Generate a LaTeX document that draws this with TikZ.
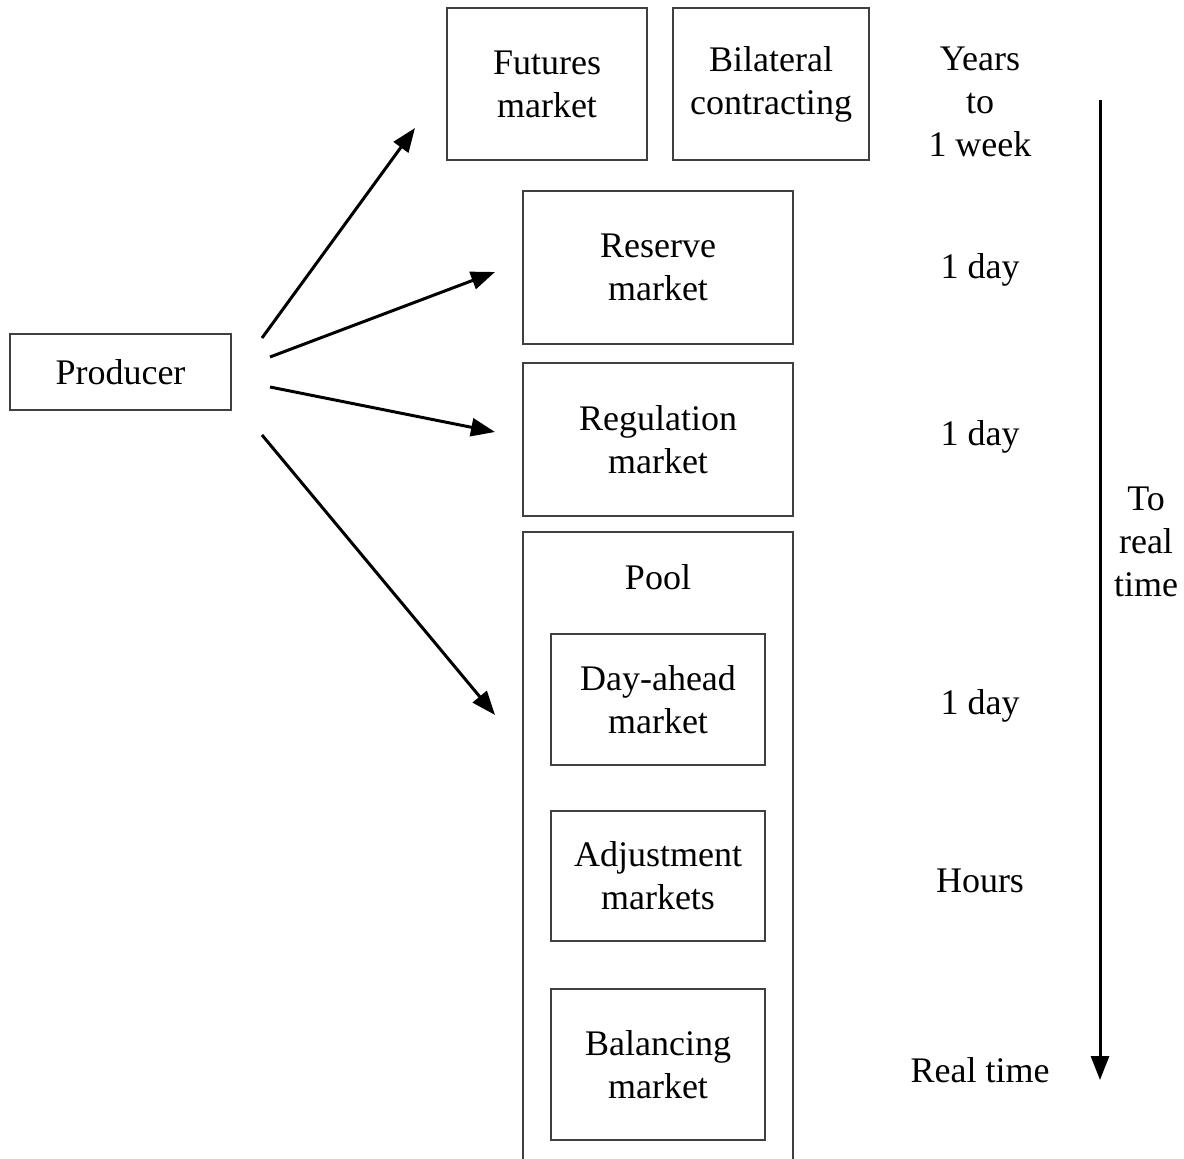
\documentclass[tikz,border=0pt]{standalone}
\usepackage{fontspec}
\setmainfont{Liberation Serif}
\usetikzlibrary{arrows.meta}
\begin{document}
\begin{tikzpicture}
           [x=0.5pt,y=-0.5pt,
            font=\fontsize{18}{21.5}\selectfont,
            mkt/.style={draw=black!75,line width=1pt,align=center,inner sep=0pt},
            lbl/.style={align=center,inner sep=0pt},
            arr/.style={line width=1.5pt,-{Triangle[length=12pt,width=9pt]}}]
           \useasboundingbox (0,0) rectangle (1184,1159);

           % producer
           \node[mkt,minimum width=110.5pt,minimum height=38pt] (prod) at (120.5,372) {Producer};

           % markets
           \node[mkt,minimum width=100pt,minimum height=76pt] (fut) at (547,84) {Futures\\market};
           \node[mkt,minimum width=98pt,minimum height=76pt] (bil) at (771,84) {Bilateral\\contracting};
           \node[mkt,minimum width=135pt,minimum height=76.5pt] (res) at (658,267.5) {Reserve\\market};
           \node[mkt,minimum width=135pt,minimum height=76.5pt] (reg) at (658,439.5) {Regulation\\market};

           % pool, open at the bottom
           \draw[draw=black!75,line width=1pt] (523,1165) -- (523,532) -- (793,532) -- (793,1165);
           \node[lbl] (pool) at (658,577) {Pool};
           \node[mkt,minimum width=107pt,minimum height=65.5pt] (dam) at (658,699.5) {Day-ahead\\market};
           \node[mkt,minimum width=107pt,minimum height=65pt] (adj) at (658,876) {Adjustment\\markets};
           \node[mkt,minimum width=107pt,minimum height=75.5pt] (bal) at (658,1064.5) {Balancing\\market};

           % times
           \node[lbl] (t0) at (980,102) {Years\\to\\1 week};
           \node[lbl] (t1) at (980,270) {1 day};
           \node[lbl] (t2) at (980,437) {1 day};
           \node[lbl] (t3) at (980,706) {1 day};
           \node[lbl] (t4) at (980,881) {Hours};
           \node[lbl] (t5) at (980,1070) {Real time};
           \node[lbl] (rt) at (1146,542) {To\\real\\time};

           \coordinate (top) at (1100,100);
           \coordinate (bot) at (1100,1080);
           \draw[arr] (top) -- (bot);

           % producer to markets
           \coordinate (p1) at (262,338);
           \coordinate (p2) at (270,357);
           \coordinate (p3) at (270,387);
           \coordinate (p4) at (262,435);
           \coordinate (e1) at (415,128);
           \coordinate (e2) at (495,272);
           \coordinate (e3) at (495,432);
           \coordinate (e4) at (495,715);
           \draw[arr] (p1) -- (e1);
           \draw[arr] (p2) -- (e2);
           \draw[arr] (p3) -- (e3);
           \draw[arr] (p4) -- (e4);
         \end{tikzpicture}
\end{document}
